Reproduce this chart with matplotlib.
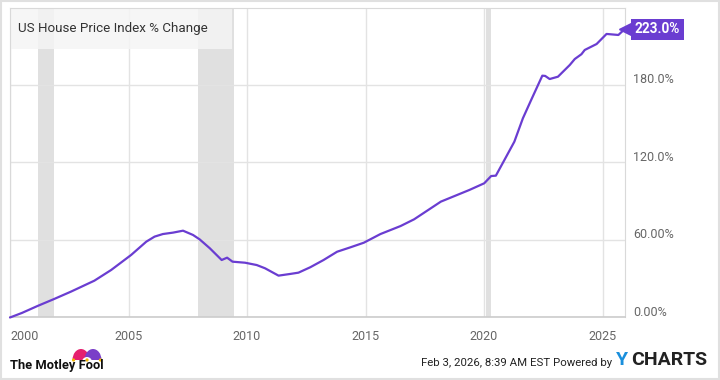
import matplotlib.pyplot as plt
import matplotlib.transforms as mtransforms
from matplotlib.patches import Rectangle, Wedge, Ellipse

plt.rcParams['font.family'] = ['Roboto', 'DejaVu Sans']

# US house price index, % change since Jan 2000
years = [2000.0, 2000.5, 2001.16, 2001.86, 2002.57, 2003.56, 2004.27, 2005.11,
         2005.75, 2006.1, 2006.45, 2006.88, 2007.3, 2007.72, 2008.0, 2008.43,
         2008.93, 2009.16, 2009.39, 2009.92, 2010.41, 2010.76, 2011.33, 2011.82,
         2012.17, 2012.67, 2013.23, 2013.8, 2014.36, 2014.93, 2015.63, 2016.48,
         2017.05, 2018.18, 2019.38, 2020.01, 2020.3, 2020.5, 2020.86, 2021.28,
         2021.64, 2021.99, 2022.46, 2022.58, 2022.77, 2023.12, 2023.62, 2023.83,
         2024.11, 2024.25, 2024.75, 2025.17, 2025.67, 2025.92]
pct_change = [0.0, 3.5, 8.9, 14.3, 20.0, 28.5, 36.8, 48.4,
              58.7, 62.6, 64.6, 65.7, 67.2, 63.9, 60.5, 53.6,
              44.5, 46.3, 43.2, 42.4, 40.6, 38.1, 32.4, 33.7,
              34.7, 38.9, 44.5, 50.9, 54.3, 57.9, 64.6, 70.8,
              76.0, 89.7, 98.7, 103.9, 109.5, 109.8, 121.9, 136.1,
              154.2, 168.4, 187.2, 187.0, 184.6, 186.4, 195.5, 200.1,
              203.8, 207.1, 211.7, 219.5, 218.7, 223.0]

# recession periods
recessions = [(2001.2, 2001.85), (2007.95, 2009.45), (2020.1, 2020.3)]

x_ticks = [2000, 2005, 2010, 2015, 2020, 2025]
y_ticks = [0, 60, 120, 180]
y_labels = ['0.00%', '60.00%', '120.0%', '180.0%']
last_label = '223.0%'

line_color = '#6a3dd1'
grid_color = '#e3e3e3'
text_color = '#666666'

fig = plt.figure(figsize=(7.2, 3.8), dpi=100)
ax = fig.add_axes([0.0139, 0.1645, 0.8542, 0.8145])

for start, end in recessions:
    ax.axvspan(start, end, color='#e0e0e0', lw=0, zorder=0)

ax.plot(years, pct_change, color=line_color, lw=1.6, zorder=3,
        clip_on=False, solid_capstyle='round')

ax.set_xlim(2000, 2025.95)
ax.set_ylim(0, 239.6)

ax.set_xticks(x_ticks)
ax.set_xticklabels([str(y) for y in x_ticks])
ax.set_yticks(y_ticks)
ax.set_yticklabels(y_labels)
ax.yaxis.tick_right()
ax.tick_params(axis='both', length=0, labelsize=9, labelcolor=text_color)
ax.tick_params(axis='x', pad=9)
ax.tick_params(axis='y', pad=6)
# y labels sit a little above their gridlines
shift = mtransforms.ScaledTranslation(0, 3.6 / 72, fig.dpi_scale_trans)
for lbl in ax.get_yticklabels():
    lbl.set_verticalalignment('center')
    lbl.set_transform(lbl.get_transform() + shift)
ax.get_xticklabels()[0].set_horizontalalignment('left')

ax.grid(True, color=grid_color, lw=1, zorder=1)
ax.set_axisbelow(True)
for side in ['top', 'right', 'left']:
    ax.spines[side].set_color('#d9d9d9')
ax.spines['bottom'].set_color('#cccccc')
ax.spines['bottom'].set_linewidth(1.2)

# title box
ax.add_patch(Rectangle((0, 0.866), 0.361, 0.134, transform=ax.transAxes,
                       facecolor='#f5f5f5', edgecolor='none', alpha=0.85, zorder=2))
ax.text(0.013, 0.935, 'US House Price Index % Change', transform=ax.transAxes,
        fontsize=9.6, color='#333333', va='center', ha='left', zorder=4)

# last value tag
ax.plot([1.0], [pct_change[-1]], marker='<', markersize=8, color=line_color,
        transform=ax.get_yaxis_transform(), clip_on=False, zorder=5)
ax.annotate(last_label, xy=(1.0, pct_change[-1]), xycoords=ax.get_yaxis_transform(),
            xytext=(7, 0), textcoords='offset points', ha='left', va='center',
            fontsize=9.8, fontweight='bold', color='white', annotation_clip=False,
            bbox=dict(boxstyle='square,pad=0.25', fc=line_color, ec='none'))

# footer: Motley Fool logo
fig.text(0.014, 0.02, 'The Motley Fool', fontsize=9.3, fontweight='bold',
         color='#111111', ha='left', va='bottom')
hat = fig.add_axes([71 / 720, 17 / 380, 32 / 720, 17 / 380])
hat.set_xlim(0, 32)
hat.set_ylim(0, 17)
hat.axis('off')
hat.add_patch(Ellipse((10, 3), 17, 22, facecolor='#e5206f', edgecolor='none'))
hat.add_patch(Ellipse((22, 3), 17, 22, facecolor='#7a3fc8', edgecolor='none'))
hat.add_patch(Ellipse((16, 1), 10, 10, facecolor='white', edgecolor='none'))
hat.add_patch(Rectangle((0, 0), 32, 3, facecolor='white', edgecolor='none'))
for cx in [2.5, 16, 29.5]:
    hat.add_patch(Ellipse((cx, 3), 3.2, 3.2, facecolor='#f2b705', edgecolor='none'))

# footer: timestamp and YCharts
fig.text(0.85, 0.032, 'Feb 3, 2026, 8:39 AM EST Powered by', fontsize=8.2,
         color='#222222', ha='right', va='bottom')
fig.text(0.855, 0.028, 'Y', fontsize=14, fontweight='bold', color='#1a8fdc',
         ha='left', va='bottom')
fig.text(0.876, 0.028, 'CHARTS', fontsize=14, fontweight='bold', color='#222222',
         ha='left', va='bottom')

# outer frame
fig.patches.append(Rectangle((0.002, 0.003), 0.996, 0.994, transform=fig.transFigure,
                             fill=False, edgecolor='#e0e0e0', lw=1.5))

fig.savefig('out.png', dpi=100)
